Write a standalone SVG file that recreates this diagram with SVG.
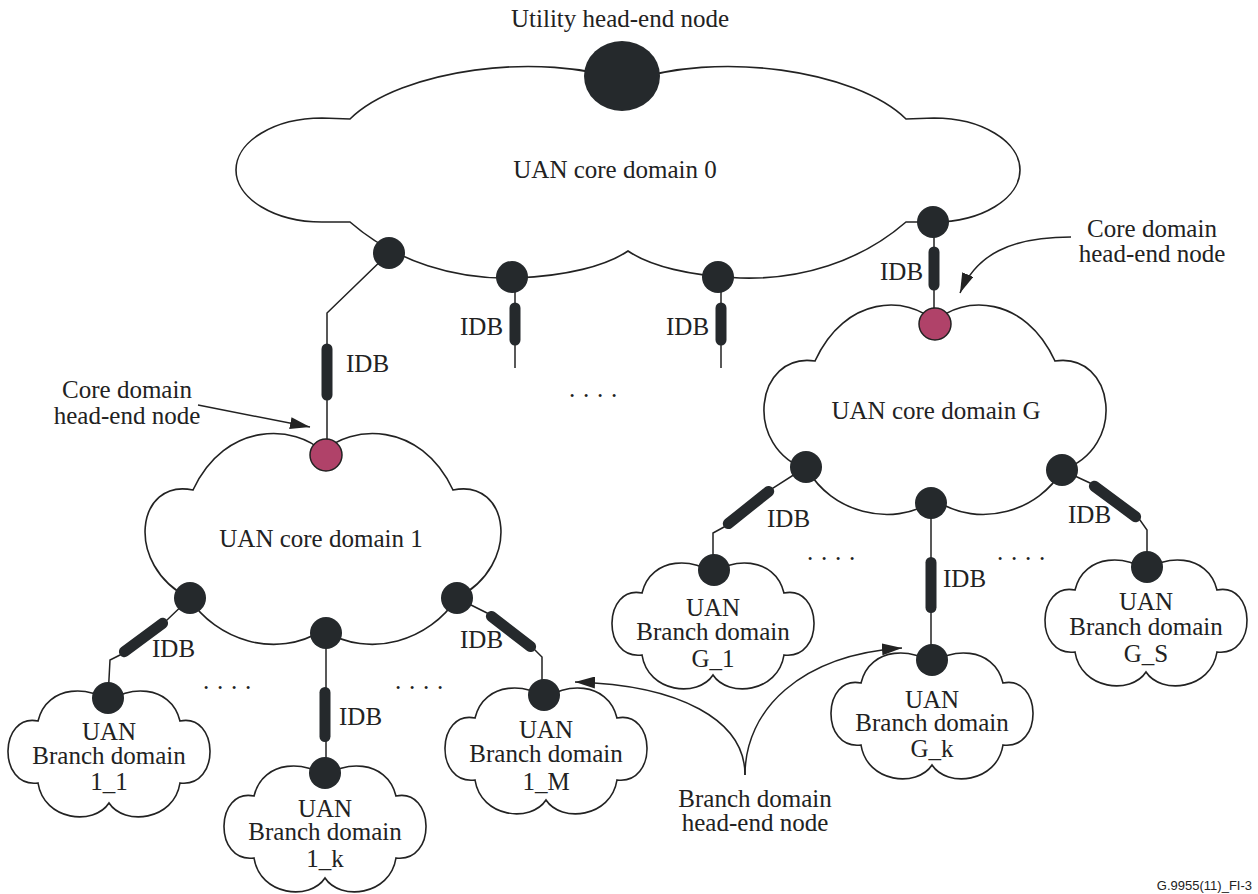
<svg xmlns="http://www.w3.org/2000/svg" xmlns:xlink="http://www.w3.org/1999/xlink" width="1258" height="894" viewBox="0 0 1258 894">
<style>
.cloud{fill:#fff;stroke:#222;stroke-width:1.6}
.node{fill:#25292c}
.head{fill:#b04269;stroke:#222;stroke-width:1.5}
.wire{fill:none;stroke:#222;stroke-width:1.5}
.idb{stroke:#25292c;stroke-width:11;stroke-linecap:round}
.arrow{fill:none;stroke:#222;stroke-width:1.5}
.t{font-family:"Liberation Serif","Times New Roman",serif;font-size:25px;fill:#222}
.c{text-anchor:middle}
.dots{letter-spacing:7.75px}
</style>
<defs>
<marker id="ah" viewBox="0 0 20 12" refX="20" refY="6" markerWidth="20" markerHeight="12" markerUnits="userSpaceOnUse" orient="auto"><path d="M0,0 L20,6 L0,12 z" fill="#222"/></marker>
<path id="branch" d="M0,5 C15,-12 62,-15 71,23 C110,15 112,90 71,85 C65,123 15,128 0,105 C-15,128 -65,123 -71,85 C-112,90 -110,15 -71,23 C-62,-15 -15,-12 0,5 Z"/>
</defs>

<g id="connectors">
<path class="wire" d="M389,253 L327,313 L327,455"/>
<path class="wire" d="M515,280 V368"/>
<path class="wire" d="M721,280 V368"/>
<path class="wire" d="M933,222 L934,235 V324"/>
<line class="idb" x1="327" y1="349" x2="327" y2="395"/>
<line class="idb" x1="515" y1="308" x2="515" y2="340"/>
<line class="idb" x1="721" y1="308" x2="721" y2="340"/>
<line class="idb" x1="934" y1="252" x2="934" y2="285"/>
<path class="wire" d="M190,598 L167,620 L120,655 L110,660 L108,698"/>
<line class="idb" x1="162.6" y1="623.3" x2="124.4" y2="651.7"/>
<path class="wire" d="M326,633 V773"/>
<line class="idb" x1="325" y1="692.5" x2="325" y2="736.5"/>
<path class="wire" d="M457,598 L487,613 L535,650 L542,657 L542,680 L544,695"/>
<line class="idb" x1="491.4" y1="616.4" x2="530.6" y2="646.6"/>
<path class="wire" d="M806,467 L773,488 L724,527 L713,533 L713,570"/>
<line class="idb" x1="768.7" y1="491.4" x2="728.3" y2="523.6"/>
<path class="wire" d="M931,503 V660"/>
<line class="idb" x1="931" y1="562.5" x2="931" y2="607.5"/>
<path class="wire" d="M1062,470 L1090,483 L1140,520 L1147,530 L1147,567"/>
<line class="idb" x1="1094.4" y1="486.3" x2="1135.6" y2="516.7"/>
<path class="arrow" d="M198,405 L310,427" marker-end="url(#ah)"/>
<path class="arrow" d="M1071,237 C1010,237 976,255 960,293" marker-end="url(#ah)"/>
<path class="arrow" d="M745,775 C745,720 680,685 575,682" marker-end="url(#ah)"/>
<path class="arrow" d="M745,775 C745,710 800,655 902,648" marker-end="url(#ah)"/>
</g>

<g id="core0">
<path class="cloud" d="M350,119 C400,70 540,50 628,82 C716,50 856,70 906,119 L934,118 A86,52 0 0 1 934,222 L906,222 C860,262 800,280 740,278 C690,276 650,266 628,251 C606,266 566,276 516,278 C456,280 396,262 350,222 L322,222 A86,52 0 0 1 322,118 Z"/>
<ellipse class="node" cx="622" cy="76" rx="38" ry="35"/>
<circle class="node" cx="389" cy="253" r="16"/>
<circle class="node" cx="512" cy="277" r="16"/>
<circle class="node" cx="718" cy="277" r="16"/>
<circle class="node" cx="933" cy="222" r="16"/>
<text class="t c" x="615" y="178">UAN core domain 0</text>
</g>

<g id="core1">
<path class="cloud" d="M323,452 C350,425 420,420 453,490 C510,478 522,565 457,598 C430,640 370,660 323,630 C276,660 216,640 189,598 C124,565 136,478 193,490 C226,420 296,425 323,452 Z"/>
<circle class="head" cx="326" cy="455" r="16"/>
<circle class="node" cx="190" cy="598" r="16"/>
<circle class="node" cx="326" cy="633" r="16"/>
<circle class="node" cx="457" cy="598" r="16"/>
<text class="t c" x="321" y="547">UAN core domain 1</text>
</g>

<g id="coreG">
<path class="cloud" d="M935,322 C962,295 1025,295 1055,361 C1115,352 1128,448 1062,470 C1040,510 980,530 935,500 C890,530 830,510 808,470 C742,448 755,352 815,361 C845,295 908,295 935,322 Z"/>
<circle class="head" cx="935" cy="324" r="16"/>
<circle class="node" cx="806" cy="467" r="16"/>
<circle class="node" cx="931" cy="503" r="16"/>
<circle class="node" cx="1062" cy="470" r="16"/>
<text class="t c" x="936" y="419">UAN core domain G</text>
</g>

<g id="branch1_1">
<use xlink:href="#branch" class="cloud" x="109" y="698"/>
<circle class="node" cx="108" cy="698" r="16"/>
<text class="t c" x="109" y="740">UAN</text>
<text class="t c" x="109" y="764">Branch domain</text>
<text class="t c" x="109" y="790">1_1</text>
</g>

<g id="branch1_k">
<use xlink:href="#branch" class="cloud" x="325" y="773"/>
<circle class="node" cx="325" cy="773" r="16"/>
<text class="t c" x="325" y="817">UAN</text>
<text class="t c" x="325" y="840">Branch domain</text>
<text class="t c" x="325" y="867">1_k</text>
</g>

<g id="branch1_M">
<use xlink:href="#branch" class="cloud" x="546" y="695"/>
<circle class="node" cx="544" cy="695" r="16"/>
<text class="t c" x="546" y="738">UAN</text>
<text class="t c" x="546" y="762">Branch domain</text>
<text class="t c" x="546" y="790">1_M</text>
</g>

<g id="branchG_1">
<use xlink:href="#branch" class="cloud" x="713" y="570"/>
<circle class="node" cx="714" cy="570" r="16"/>
<text class="t c" x="713" y="616">UAN</text>
<text class="t c" x="713" y="640">Branch domain</text>
<text class="t c" x="713" y="667">G_1</text>
</g>

<g id="branchG_k">
<use xlink:href="#branch" class="cloud" x="932" y="660"/>
<circle class="node" cx="932" cy="660" r="16"/>
<text class="t c" x="932" y="708">UAN</text>
<text class="t c" x="932" y="731">Branch domain</text>
<text class="t c" x="932" y="757">G_k</text>
</g>

<g id="branchG_S">
<use xlink:href="#branch" class="cloud" x="1146" y="567"/>
<circle class="node" cx="1147" cy="567" r="16"/>
<text class="t c" x="1146" y="610">UAN</text>
<text class="t c" x="1146" y="635">Branch domain</text>
<text class="t c" x="1146" y="662">G_S</text>
</g>

<g id="labels">
<text class="t c" x="620" y="27">Utility head-end node</text>
<text class="t c" x="127" y="398">Core domain</text>
<text class="t c" x="127" y="424">head-end node</text>
<text class="t c" x="1152" y="237">Core domain</text>
<text class="t c" x="1152" y="262">head-end node</text>
<text class="t c" x="755" y="807">Branch domain</text>
<text class="t c" x="755" y="831">head-end node</text>
<text class="t" x="346" y="372">IDB</text>
<text class="t" x="460" y="335">IDB</text>
<text class="t" x="666" y="335">IDB</text>
<text class="t" x="880" y="280">IDB</text>
<text class="t" x="152" y="657">IDB</text>
<text class="t" x="339" y="725">IDB</text>
<text class="t" x="460" y="648">IDB</text>
<text class="t" x="767" y="527">IDB</text>
<text class="t" x="943" y="587">IDB</text>
<text class="t" x="1068" y="523">IDB</text>
<text class="t dots" x="569" y="397">....</text>
<text class="t dots" x="203" y="689">....</text>
<text class="t dots" x="395" y="689">....</text>
<text class="t dots" x="807" y="560">....</text>
<text class="t dots" x="997" y="560">....</text>
<text x="1252" y="890" text-anchor="end" font-family="'Liberation Sans', Arial, sans-serif" font-size="13" fill="#222">G.9955(11)_FI-3</text>
</g>
</svg>
